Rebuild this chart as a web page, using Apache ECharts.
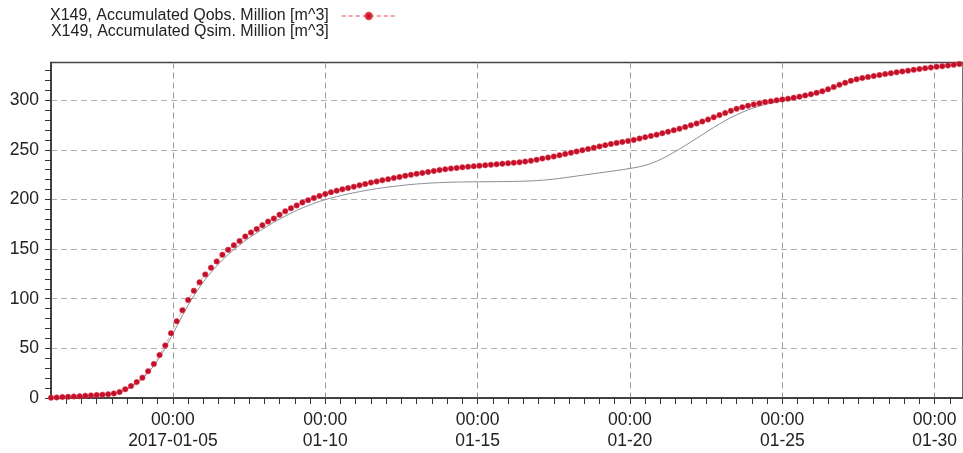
<!DOCTYPE html>
<html>
<head>
<meta charset="utf-8">
<script src="https://cdn.jsdelivr.net/npm/echarts@6/dist/echarts.min.js"></script>
<style>
html,body{margin:0;padding:0;background:#fff;}
#chart{width:963px;height:453px;}
</style>
</head>
<body>
<div id="chart"></div>
<script>
// Series names
const obsName = 'X149, Accumulated Qobs. Million [m^3]';
const simName = 'X149, Accumulated Qsim. Million [m^3]';

// Time base: days since 2016-12-31 00:00; samples every 4.5 hours from 2017-01-01 00:00
const startDay = 1;
const stepDays = 0.1875;

// Major tick labels (date part), at 00:00 of each day
const xTickDays = [5, 10, 15, 20, 25, 30];
const xTickDates = ['2017-01-05', '01-10', '01-15', '01-20', '01-25', '01-30'];
const xTickTime = '00:00';
const yTickValues = [0, 50, 100, 150, 200, 250, 300];

// Accumulated observed volume (Million m^3)
const obsValues = [
  0.3, 0.6, 0.9, 1.2, 1.5, 1.8, 2.2, 2.6, 3.0, 3.4,
  3.8, 4.6, 6.0, 8.8, 12.0, 16.0, 20.5, 27.0, 34.3, 43.3,
  53.0, 65.3, 77.3, 88.5, 98.8, 108.0, 116.5, 124.5, 131.3, 137.6,
  144.3, 149.3, 153.8, 158.1, 162.8, 166.7, 170.3, 174.1, 177.7, 180.8,
  184.7, 188.1, 191.2, 194.0, 197.0, 199.3, 201.5, 203.6, 205.6, 207.2,
  208.8, 210.2, 211.5, 212.9, 214.3, 215.6, 217.0, 218.2, 219.4, 220.5,
  221.6, 222.7, 223.8, 224.8, 225.8, 226.8, 227.8, 228.8, 229.6, 230.4,
  231.1, 231.8, 232.4, 233.0, 233.5, 234.0, 234.5, 235.0, 235.5, 236.0,
  236.5, 237.0, 237.5, 238.2, 239.0, 240.0, 241.2, 242.2, 243.3, 244.6,
  245.8, 247.0, 248.3, 249.6, 250.9, 252.1, 253.5, 254.7, 255.9, 257.0,
  258.0, 259.0, 260.0, 261.4, 262.8, 264.0, 265.3, 266.7, 268.2, 269.7,
  271.3, 272.9, 274.7, 276.6, 278.5, 280.5, 282.8, 285.0, 287.2, 289.3,
  291.3, 293.0, 294.5, 295.8, 297.0, 298.1, 299.0, 299.9, 300.7, 301.6,
  302.6, 303.6, 304.8, 306.0, 307.4, 309.0, 311.0, 313.3, 315.5, 317.6,
  319.5, 321.0, 322.3, 323.4, 324.4, 325.4, 326.3, 327.2, 328.1, 329.0,
  329.8, 330.6, 331.4, 332.2, 332.9, 333.6, 334.3, 335.0, 335.7, 336.4
];

// Accumulated simulated volume (Million m^3)
const simValues = [
  0.3, 0.6, 0.9, 1.2, 1.5, 1.8, 2.2, 2.6, 3.0, 3.4,
  3.8, 4.5, 5.7, 8.0, 11.0, 14.8, 19.5, 25.5, 32.5, 41.0,
  50.5, 61.0, 72.0, 83.0, 93.5, 103.0, 111.5, 119.5, 126.5, 133.0,
  139.0, 144.5, 149.5, 154.0, 158.5, 162.5, 166.3, 170.0, 173.5, 177.0,
  180.2, 183.3, 186.2, 189.0, 191.5, 193.8, 196.0, 198.0, 199.8, 201.4,
  202.9, 204.3, 205.6, 206.8, 207.9, 209.0, 210.0, 210.9, 211.7, 212.5,
  213.2, 213.9, 214.5, 215.1, 215.6, 216.0, 216.4, 216.7, 217.0, 217.2,
  217.4, 217.5, 217.6, 217.7, 217.8, 217.8, 217.9, 217.9, 218.0, 218.0,
  218.1, 218.2, 218.3, 218.5, 218.7, 219.0, 219.4, 219.9, 220.5, 221.2,
  222.0, 222.8, 223.6, 224.4, 225.2, 226.0, 226.8, 227.6, 228.4, 229.2,
  230.0, 230.9, 231.9, 233.0, 234.4, 236.2, 238.5, 241.2, 244.2, 247.4,
  250.8, 254.3, 257.9, 261.6, 265.3, 269.0, 272.6, 276.1, 279.4, 282.5,
  285.3, 287.9, 290.2, 292.3, 294.1, 295.7, 297.1, 298.3, 299.4, 300.5,
  301.6, 302.7, 303.9, 305.1, 306.5, 308.1, 310.1, 312.4, 314.7, 316.9,
  318.8, 320.4, 321.8, 323.0, 324.1, 325.1, 326.0, 326.9, 327.8, 328.7,
  329.5, 330.3, 331.1, 331.9, 332.6, 333.3, 334.0, 334.7, 335.4, 336.1
];

const xMin = 1;
const xMax = 30.93;
const yMin = 0;
const yMax = 338;

function toPairs(vals) {
  return vals.map((v, i) => [startDay + i * stepDays, v]);
}

const fontFamily = '"Liberation Sans", Arial, sans-serif';

function xLabel(v) {
  for (let k = 0; k < xTickDays.length; k++) {
    if (Math.abs(v - xTickDays[k]) < 1e-6) return xTickTime + '\n' + xTickDates[k];
  }
  return '';
}
function yLabel(v) {
  for (let k = 0; k < yTickValues.length; k++) {
    if (Math.abs(v - yTickValues[k]) < 1e-6) return String(yTickValues[k]);
  }
  return '';
}

// Main plot geometry
const gLeft = 51, gRight = -1, gTop = 62.5, gBottom = 55;
const W = 963;
const pxPerDay = (W - gRight - gLeft) / (xMax - xMin);
// helper grid for the 5-day vertical grid lines, extended one day to the left so its min is 0
const gLeft2 = gLeft - (xMin - 0) * pxPerDay;

const chart = echarts.init(document.getElementById('chart'), null, {renderer: 'canvas'});
chart.setOption({
  animation: false,
  backgroundColor: '#fff',
  textStyle: {fontFamily: fontFamily},
  legend: {
    orient: 'vertical',
    left: 50,
    top: 8,
    padding: 0,
    align: 'right',
    itemWidth: 54,
    itemHeight: 8,
    itemGap: 0,
    selectedMode: false,
    textStyle: {fontSize: 16, color: '#222', fontFamily: fontFamily, lineHeight: 15, padding: [0, 8, 0, 0]},
    data: [
      {name: obsName},
      {name: simName, itemStyle: {opacity: 0}, lineStyle: {opacity: 0}}
    ]
  },
  grid: [
    {
      left: gLeft, right: gRight, top: gTop, bottom: gBottom,
      show: true, borderColor: '#444', borderWidth: 1.5, backgroundColor: 'transparent'
    },
    {
      left: gLeft2, right: gRight, top: gTop, bottom: gBottom, show: false
    }
  ],
  xAxis: [
    {
      gridIndex: 0, type: 'value', min: xMin, max: xMax, interval: 0.5, position: 'bottom',
      axisLine: {show: true, lineStyle: {color: '#333', width: 1.5}},
      axisTick: {show: true, length: 6, lineStyle: {color: '#333', width: 1}},
      axisLabel: {formatter: xLabel, fontSize: 17.5, color: '#222', lineHeight: 21.5, margin: 11, fontFamily: fontFamily, showMinLabel: false, showMaxLabel: false},
      splitLine: {show: false}
    },
    {
      gridIndex: 1, type: 'value', min: 0, max: xMax, interval: 5, position: 'bottom',
      axisLine: {show: false}, axisTick: {show: false}, axisLabel: {show: false},
      splitLine: {show: true, showMinLine: false, showMaxLine: false, lineStyle: {color: '#9a9a9a', type: [6, 4], width: 1}}
    }
  ],
  yAxis: [
    {
      gridIndex: 0, type: 'value', min: yMin, max: yMax, interval: 10, position: 'left',
      axisLine: {show: true, lineStyle: {color: '#333', width: 1.5}},
      axisTick: {show: true, length: 6, lineStyle: {color: '#333', width: 1}},
      axisLabel: {formatter: yLabel, fontSize: 17.5, color: '#222', margin: 12, fontFamily: fontFamily, showMaxLabel: false},
      splitLine: {show: false}
    },
    {
      gridIndex: 0, type: 'value', min: yMin, max: yMax, interval: 50, position: 'left',
      axisLine: {show: false}, axisTick: {show: false}, axisLabel: {show: false},
      splitLine: {show: true, showMinLine: false, showMaxLine: false, lineStyle: {color: '#b0b0b0', type: [6, 4], width: 1}}
    },
    {
      gridIndex: 1, type: 'value', min: yMin, max: yMax, interval: 50, position: 'left',
      axisLine: {show: false}, axisTick: {show: false}, axisLabel: {show: false},
      splitLine: {show: false}
    }
  ],
  series: [
    {
      name: simName, type: 'line', xAxisIndex: 0, yAxisIndex: 0,
      data: toPairs(simValues), showSymbol: false, symbol: 'none', smooth: false,
      lineStyle: {color: '#8a8c98', width: 1}, itemStyle: {color: '#8a8c98'}, z: 2
    },
    {
      name: obsName, type: 'line', xAxisIndex: 0, yAxisIndex: 0,
      data: toPairs(obsValues), symbol: 'circle', symbolSize: 5.5, showAllSymbol: true,
      lineStyle: {color: '#f2a3a3', width: 1, type: [4, 3]},
      itemStyle: {color: '#c20f2b', borderColor: '#e0404a', borderWidth: 0.5}, z: 3
    }
  ]
});
</script>
</body>
</html>
